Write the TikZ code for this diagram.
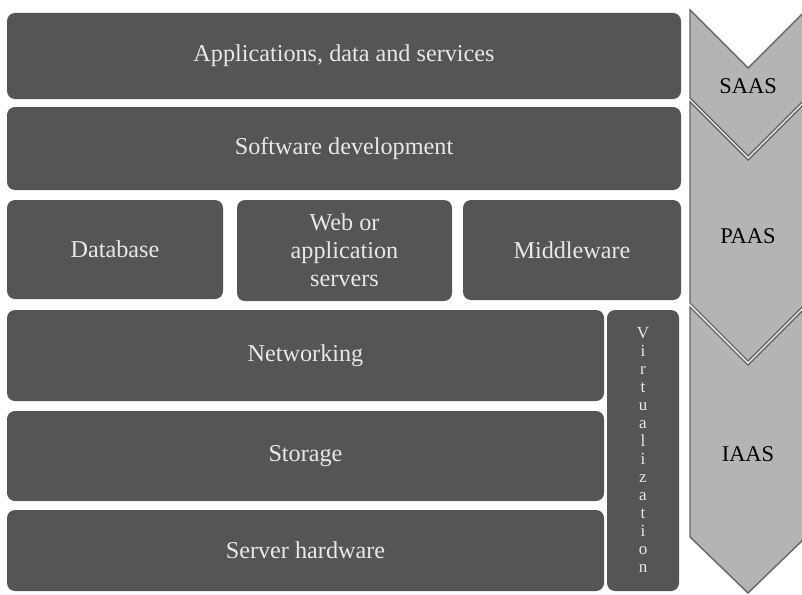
\documentclass[tikz,border=0pt]{standalone}
\usepackage{fontspec}
\setmainfont{Liberation Serif}
\definecolor{boxgray}{HTML}{555555}
\definecolor{txtgray}{HTML}{E8E8E8}
\definecolor{chevfill}{HTML}{B4B4B4}
\definecolor{chevline}{HTML}{666666}
\tikzset{
  layer/.style={rounded corners=8pt, fill=boxgray, text=txtgray, inner sep=0pt,
    font=\fontsize{24.2}{28}\selectfont, align=center},
  vletter/.style={text=txtgray, font=\fontsize{17}{18}\selectfont, inner sep=0pt, anchor=base},
  chev/.style={fill=chevfill, draw=chevline, line width=1.4pt, line join=miter},
  chevtext/.style={font=\fontsize{22.5}{26}\selectfont, text=black},
}
\begin{document}
\begin{tikzpicture}[x=1pt,y=-1pt]
\useasboundingbox (0,0) rectangle (802,594);
\fill[white] (0,0) rectangle (802,594);
% left layers
\node[layer, minimum width=674pt, minimum height=86pt] (apps) at (344,56) {Applications, data and services};
\node[layer, minimum width=674pt, minimum height=83pt] (soft) at (344,148.5) {Software development};
\node[layer, minimum width=216pt, minimum height=99pt] (db) at (115,249.5) {Database};
\node[layer, minimum width=215pt, minimum height=101pt] (web) at (344.5,250.5) {Web or\\application\\servers};
\node[layer, minimum width=218pt, minimum height=100pt] (mid) at (572,250) {Middleware};
\node[layer, minimum width=597pt, minimum height=91pt] (net) at (305.5,355.5) {Networking};
\node[layer, minimum width=597pt, minimum height=90pt] (sto) at (305.5,456) {Storage};
\node[layer, minimum width=597pt, minimum height=81pt] (hw) at (305.5,550.5) {Server hardware};
\node[layer, minimum width=72pt, minimum height=281pt] (virt) at (643,450.5) {};
\foreach \ch [count=\i] in {V,i,r,t,u,a,l,i,z,a,t,i,o,n}
  \node[vletter] (vl\i) at (643,{338+18*(\i-1)}) {\ch};
% chevrons
\begin{scope}
\clip (0,0) rectangle (802,594);
\draw[chev] (690,10) -- (748,68) -- (806,10) -- (806,98) -- (748,156) -- (690,98) -- cycle;
\draw[chev] (690,102) -- (748,160) -- (806,102) -- (806,303) -- (748,361) -- (690,303) -- cycle;
\draw[chev] (690,307) -- (748,365) -- (806,307) -- (806,537) -- (748,593) -- (690,537) -- cycle;
\end{scope}
\node[chevtext] (saas) at (748,86) {SAAS};
\node[chevtext] (paas) at (748,236) {PAAS};
\node[chevtext] (iaas) at (748,454) {IAAS};
\end{tikzpicture}
\end{document}
